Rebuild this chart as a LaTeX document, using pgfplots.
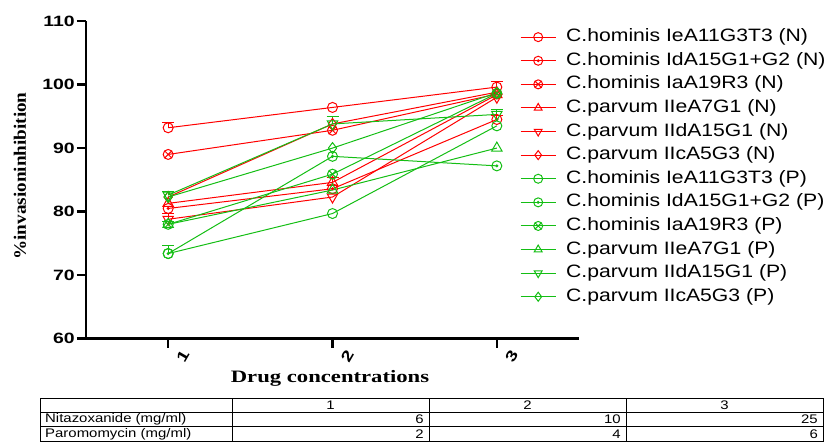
\documentclass[border=0pt]{standalone}
\usepackage{fontspec}
\usepackage{pgfplots}
\pgfplotsset{compat=1.18}
\newfontfamily\ticksfont[FakeStretch=1.3]{Liberation Sans}
\newfontfamily\legfont[FakeStretch=1.18]{Liberation Sans}
\newfontfamily\xlabfont[FakeStretch=1.3]{Liberation Serif}
\newfontfamily\ylabfont[FakeStretch=1.1]{Liberation Serif}
\newfontfamily\tabfont[FakeStretch=1.2]{Liberation Sans}
\definecolor{pr}{RGB}{255,0,0}
\definecolor{pg}{RGB}{20,190,20}
\pgfdeclareplotmark{odot}{%
  \pgfpathcircle{\pgfpointorigin}{\pgfplotmarksize}\pgfusepathqstroke
  \pgfpathcircle{\pgfpointorigin}{0.2\pgfplotmarksize}\pgfusepathqfillstroke}
\begin{document}
\begin{tikzpicture}
\useasboundingbox (0bp,0bp) rectangle (839bp,-445bp);
\begin{axis}[
  at={(86bp,-338.7bp)}, anchor=south west,
  scale only axis, width=493bp, height=317.7bp,
  xmin=0.5, xmax=3.5, ymin=60, ymax=110,
  axis x line*=bottom, axis y line*=left,
  axis line style={line width=2.5bp, black},
  xtick={1,2,3}, ytick={60,70,80,90,100,110},
  tick align=outside, major tick length=9bp,
  tick style={line width=2.5bp, black},
  /pgf/number format/assume math mode=true,
  tick label style={font=\ticksfont\bfseries\fontsize{15}{15}\selectfont},
  yticklabel style={inner sep=2bp},
  xticklabel style={rotate=60, anchor=center, yshift=-17bp},
  xlabel={Drug concentrations},
  xlabel style={font=\xlabfont\bfseries\fontsize{17.5}{17.5}\selectfont, at={(axis description cs:0.495,-0.124)}, anchor=center},
  ylabel={\%invasioninhibition},
  ylabel style={font=\ylabfont\bfseries\fontsize{17.5}{17.5}\selectfont, at={(axis description cs:-0.134,0.512)}, anchor=center},
  every axis plot/.append style={line width=1bp},
  mark size=5bp,
  legend style={at={(axis description cs:0.8803,0.975)}, anchor=north west, draw=none, fill=none,
    font=\legfont\fontsize{18}{18}\selectfont, inner sep=0pt, row sep=7.6bp,
    nodes={inner sep=0pt, text height=12.5bp, text depth=3.5bp},
    /tikz/every odd column/.append style={column sep=10bp}},
  legend cell align=left,
  legend image code/.code={\draw[mark repeat=2,mark phase=2,mark size=4.5bp] plot coordinates {(0bp,0bp) (17.5bp,0bp) (35bp,0bp)};},
]
% N series (red)
\addplot[pr, mark=o] coordinates {(1,93.2) (2,96.4) (3,99.6)};
\addlegendentry{C.hominis IeA11G3T3 (N)}
\addplot[pr, mark=odot, mark options={fill=pr}] coordinates {(1,80.5) (2,83.6) (3,94.5)};
\addlegendentry{C.hominis IdA15G1+G2 (N)}
\addplot[pr, mark=otimes] coordinates {(1,89.0) (2,92.8) (3,98.5)};
\addlegendentry{C.hominis IaA19R3 (N)}
\addplot[pr, mark=triangle, mark size=6bp] coordinates {(1,81.3) (2,84.6) (3,98.4)};
\addlegendentry{C.parvum IIeA7G1 (N)}
\addplot[pr, mark=triangle, mark size=6bp, mark options={rotate=180}] coordinates {(1,78.8) (2,82.3) (3,98.0)};
\addlegendentry{C.parvum IIdA15G1 (N)}
\addplot[pr, mark=diamond, mark size=5.5bp] coordinates {(1,82.3) (2,93.8) (3,98.8)};
\addlegendentry{C.parvum IIcA5G3 (N)}
% P series (green)
\addplot[pg, mark=o] coordinates {(1,73.4) (2,79.7) (3,93.5)};
\addlegendentry{C.hominis IeA11G3T3 (P)}
\addplot[pg, mark=odot, mark options={fill=pg}] coordinates {(1,73.4) (2,88.7) (3,87.2)};
\addlegendentry{C.hominis IdA15G1+G2 (P)}
\addplot[pg, mark=otimes] coordinates {(1,78.0) (2,85.9) (3,98.6)};
\addlegendentry{C.hominis IaA19R3 (P)}
\addplot[pg, mark=triangle, mark size=6bp] coordinates {(1,78.0) (2,83.4) (3,90.0)};
\addlegendentry{C.parvum IIeA7G1 (P)}
\addplot[pg, mark=triangle, mark size=6bp, mark options={rotate=180}] coordinates {(1,82.6) (2,93.8) (3,95.3)};
\addlegendentry{C.parvum IIdA15G1 (P)}
\addplot[pg, mark=diamond, mark size=5.5bp] coordinates {(1,82.3) (2,90.0) (3,98.7)};
\addlegendentry{C.parvum IIcA5G3 (P)}
% error bars (upper caps)
\addplot[draw=none, mark=none, forget plot,
  error bars/.cd, y dir=plus, y explicit,
  error bar style={draw=pr, line width=1bp},
  error mark options={draw=pr, line width=1bp, rotate=90, mark size=6bp}]
  coordinates {(1,93.2) +- (0,0.8) (3,99.6) +- (0,0.9) (1,78.8) +- (0,0.9) (2,84.6) +- (0,0.8) (3,94.5) +- (0,0.6)};
\addplot[draw=none, mark=none, forget plot,
  error bars/.cd, y dir=plus, y explicit,
  error bar style={draw=pg, line width=1bp},
  error mark options={draw=pg, line width=1bp, rotate=90, mark size=6bp}]
  coordinates {(1,73.4) +- (0,1.2) (2,93.8) +- (0,1.1) (3,95.3) +- (0,0.7) (1,82.6) +- (0,0.6) (1,78.0) +- (0,0.5)};
\end{axis}
% table
\begin{scope}[line width=0.8bp]
\draw (40bp,-398bp) rectangle (823bp,-441bp);
\draw (40bp,-412.3bp) -- (823bp,-412.3bp);
\draw (40bp,-426.7bp) -- (823bp,-426.7bp);
\foreach \xx in {232,429,626} \draw (\xx bp,-398bp) -- (\xx bp,-441bp);
\end{scope}
\begin{scope}[every node/.style={font=\tabfont\fontsize{12.5}{12.5}\selectfont, inner sep=0pt}]
\node at (330.5bp,-405.2bp) {1};
\node at (527.5bp,-405.2bp) {2};
\node at (724.5bp,-405.2bp) {3};
\node[anchor=west] at (45bp,-419.5bp) {Nitazoxanide (mg/ml)};
\node[anchor=west] at (45bp,-433.9bp) {Paromomycin (mg/ml)};
\node[anchor=east] at (424bp,-419.5bp) {6};
\node[anchor=east] at (621bp,-419.5bp) {10};
\node[anchor=east] at (818bp,-419.5bp) {25};
\node[anchor=east] at (424bp,-433.9bp) {2};
\node[anchor=east] at (621bp,-433.9bp) {4};
\node[anchor=east] at (818bp,-433.9bp) {6};
\end{scope}
\end{tikzpicture}
\end{document}
